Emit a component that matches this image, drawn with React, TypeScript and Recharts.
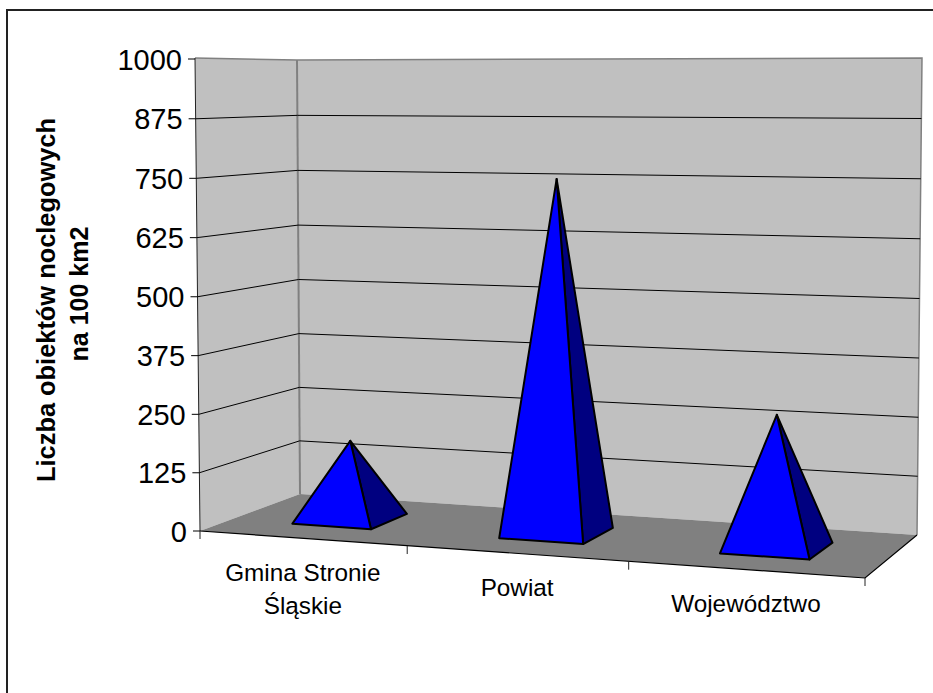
import React from "react";
import { ComposedChart, Bar, XAxis, YAxis, ReferenceArea, ReferenceLine } from "recharts";

const categories = ["Gmina Stronie\nŚląskie", "Powiat", "Województwo"];
const seriesValues = [165, 750, 282];
const yTicks = [0, 125, 250, 375, 500, 625, 750, 875, 1000];
const gridValues = [125, 250, 375, 500, 625, 750, 875];
const yTitleLines = ["Liczba obiektów noclegowych", "na 100 km2"];

const rows = categories.map((name, i) => ({ name, value: seriesValues[i] }));

const FONT = "'Liberation Sans', Arial, sans-serif";
const W = 933;
const H = 693;
const PLOT_LEFT = 200;
const PLOT_RIGHT = 865;
const PLOT_TOP = 59;
const PLOT_BOTTOM = 531;
const PLOT_W = PLOT_RIGHT - PLOT_LEFT;
const PLOT_H = PLOT_BOTTOM - PLOT_TOP;

// Perspective of the 3D box: maps floor coordinates (u along the axis, v in depth) to the page.
const FL = [200, 531];
const FR = [865, 578];
const BR = [917, 535];
const BL = [300, 494];
const sx = FL[0] - FR[0] + BR[0] - BL[0];
const sy = FL[1] - FR[1] + BR[1] - BL[1];
const dx1 = FR[0] - BR[0];
const dx2 = BL[0] - BR[0];
const dy1 = FR[1] - BR[1];
const dy2 = BL[1] - BR[1];
const det = dx1 * dy2 - dx2 * dy1;
const g = (sx * dy2 - dx2 * sy) / det;
const h = (dx1 * sy - sx * dy1) / det;
const a = FR[0] - FL[0] + g * FR[0];
const b = BL[0] - FL[0] + h * BL[0];
const d = FR[1] - FL[1] + g * FR[1];
const e = BL[1] - FL[1] + h * BL[1];

const floor = (u: number, v: number) => {
  const w = 1 + g * u + h * v;
  return {
    x: (a * u + b * v + FL[0]) / w - 24 * u * (1 - u),
    y: (d * u + e * v + FL[1]) / w,
  };
};
const pts = (list: { x: number; y: number }[]) => list.map((p) => `${p.x},${p.y}`).join(" ");
const lerp = (p: number, q: number, t: number) => p + (q - p) * t;
const frontEdge = (t: number, y: number) => ({ x: lerp(200, 195, t), y: y + 7 * t * (1 - t) });
const backWall = (t: number) => ({ x: lerp(300, 297, t), y: lerp(494, 60, t) + 10 * t * (1 - t) });
const rightWall = (t: number) => ({ x: lerp(917, 922, t), y: lerp(535, 58, t) + 8 * t * (1 - t) });

const Box = () => {
  const topLeft = { x: 195, y: 58 };
  const botLeft = { x: FL[0], y: FL[1] };
  const backTop = backWall(1);
  const backBot = backWall(0);
  const rightTop = rightWall(1);
  const rightBot = rightWall(0);
  const boundaries = [0, 1 / 3, 2 / 3, 1];
  return (
    <g>
      <polygon points={pts([topLeft, backTop, backBot, botLeft])} fill="#C0C0C0" stroke="none" />
      <polygon points={pts([backTop, rightTop, rightBot, backBot])} fill="#C0C0C0" stroke="none" />
      <polygon
        points={pts([botLeft, { x: FR[0], y: FR[1] }, rightBot, backBot])}
        fill="#808080"
        stroke="none"
      />
      <polyline points={pts([topLeft, backTop, rightTop, rightBot])} fill="none" stroke="#808080" strokeWidth={1.5} />
      <line x1={backTop.x} y1={backTop.y} x2={backBot.x} y2={backBot.y} stroke="#808080" strokeWidth={2} />
      <line x1={topLeft.x} y1={topLeft.y} x2={botLeft.x} y2={botLeft.y} stroke="#222" strokeWidth={1} />
      <polyline points={pts([botLeft, { x: FR[0], y: FR[1] }, rightBot])} fill="none" stroke="#000" strokeWidth={1.2} />
      {boundaries.map((u) => {
        const p = floor(u, 0);
        return <line key={u} x1={p.x} y1={p.y} x2={p.x} y2={p.y + 8} stroke="#222" strokeWidth={1} />;
      })}
    </g>
  );
};

const GridLine = (props: any) => {
  const y = props.y1;
  const t = (PLOT_BOTTOM - y) / PLOT_H;
  return (
    <polyline
      points={pts([frontEdge(t, y), backWall(t), rightWall(t)])}
      fill="none"
      stroke="#000"
      strokeWidth={1}
    />
  );
};

const YTick = (props: any) => {
  const { y, payload } = props;
  const t = (PLOT_BOTTOM - y) / PLOT_H;
  const p = frontEdge(t, y);
  return (
    <g>
      <line x1={p.x - 7} y1={p.y} x2={p.x} y2={p.y} stroke="#000" strokeWidth={1} />
      <text x={p.x - 13} y={p.y + 10.5} textAnchor="end" fontFamily={FONT} fontSize={29} fill="#000">
        {payload.value}
      </text>
    </g>
  );
};

const XTick = (props: any) => {
  const { x, payload } = props;
  const u = (x - PLOT_LEFT) / PLOT_W;
  const p = floor(u, 0);
  const lines = String(payload.value).split("\n");
  return (
    <text textAnchor="middle" fontFamily={FONT} fontSize={24.3} fill="#000">
      {lines.map((line, i) => (
        <tspan key={line} x={p.x + 1} y={p.y + 42.5 + i * 33}>
          {line}
        </tspan>
      ))}
    </text>
  );
};

const Pyramid = (props: any) => {
  const { x, width, height } = props;
  const u = (x + width / 2 - PLOT_LEFT) / PLOT_W;
  const du = width / 2 / PLOT_W;
  const v = 0.5;
  const dv = 0.2;
  const fl = floor(u - du, v - dv);
  const fr = floor(u + du, v - dv);
  const br = floor(u + du, v + dv);
  const c = floor(u, v);
  const apex = { x: c.x, y: c.y - height };
  return (
    <g stroke="#000" strokeWidth={2} strokeLinejoin="round">
      <polygon points={pts([fr, br, apex])} fill="#000080" />
      <polygon points={pts([fl, fr, apex])} fill="#0000FF" />
    </g>
  );
};

const YTitle = () => (
  <g fontFamily={FONT} fontWeight="bold" fill="#000" textAnchor="middle">
    <text transform="translate(55,300) rotate(-90)" fontSize={25.4}>{yTitleLines[0]}</text>
    <text transform="translate(88,294) rotate(-90)" fontSize={25}>{yTitleLines[1]}</text>
  </g>
);

export default function App() {
  return (
    <div style={{ position: "absolute", left: 0, top: 0, width: W, height: H, background: "#fff", overflow: "hidden" }}>
      <div
        style={{
          position: "absolute",
          left: 6,
          top: 9,
          width: W,
          height: H,
          borderLeft: "2px solid #222",
          borderTop: "2px solid #222",
        }}
      />
      <div style={{ position: "absolute", left: 0, top: 0 }}>
        <ComposedChart
          width={W}
          height={H}
          data={rows}
          margin={{ top: PLOT_TOP, right: W - PLOT_RIGHT, bottom: H - PLOT_BOTTOM - 60, left: 0 }}
          barSize={86}
        >
          <XAxis dataKey="name" type="category" height={60} axisLine={false} tickLine={false} tick={<XTick />} interval={0} />
          <YAxis
            type="number"
            domain={[0, 1000]}
            ticks={yTicks}
            width={PLOT_LEFT}
            axisLine={false}
            tickLine={false}
            tick={<YTick />}
            interval={0}
            label={{ content: <YTitle /> }}
          />
          <ReferenceArea y1={0} y2={1000} shape={<Box />} />
          {gridValues.map((v) => (
            <ReferenceLine key={v} y={v} shape={<GridLine />} zIndex={150} />
          ))}
          <Bar dataKey="value" shape={<Pyramid />} isAnimationActive={false} zIndex={300} />
        </ComposedChart>
      </div>
    </div>
  );
}
